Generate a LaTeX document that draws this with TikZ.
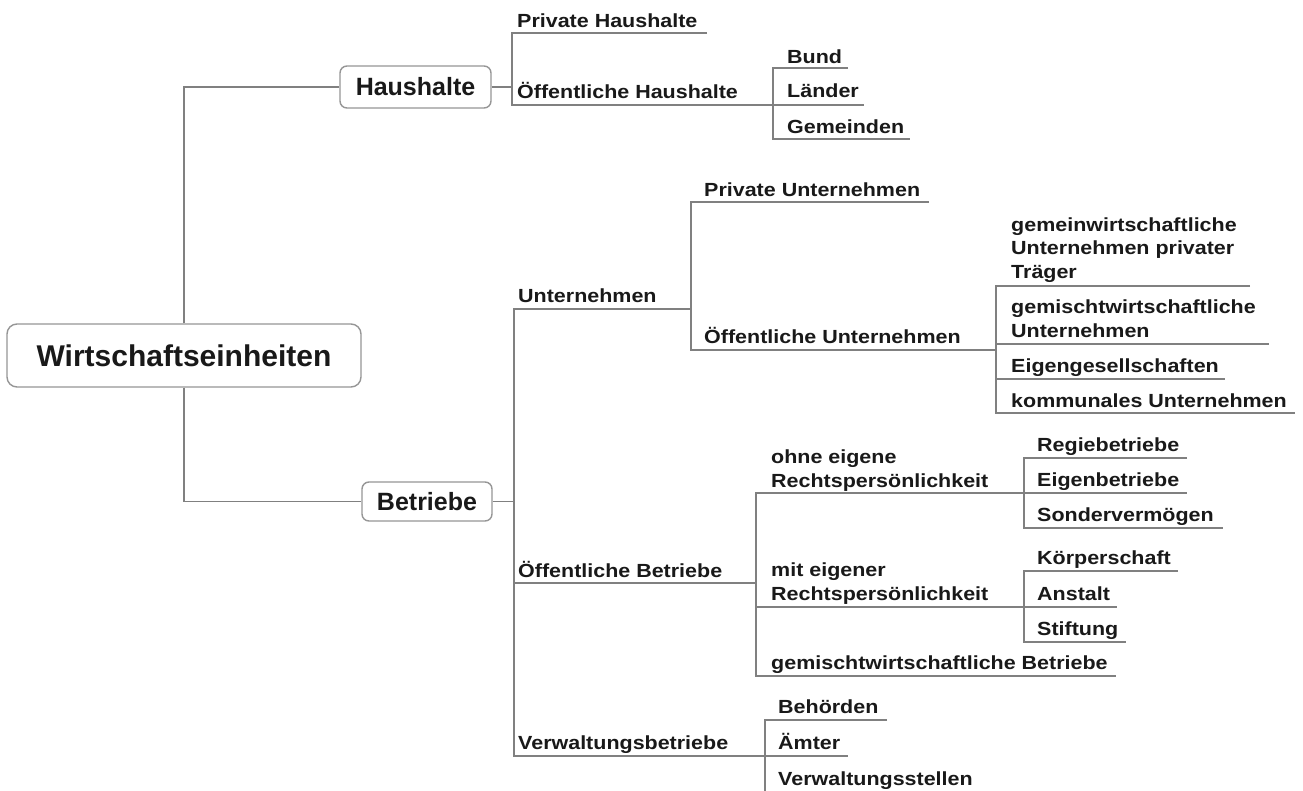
\documentclass[tikz,border=0pt]{standalone}
\usepackage{fontspec}
\setmainfont{Liberation Sans}
\newfontfamily\lblfam{Liberation Sans}[FakeStretch=1.13]
\definecolor{linegray}{RGB}{128,128,128}
\definecolor{boxgray}{RGB}{150,150,150}
\definecolor{txt}{RGB}{25,25,25}
\begin{document}
\begin{tikzpicture}[x=1pt,y=-1pt,
  conn/.style={draw=linegray,line width=1.6pt},
  lbl/.style={anchor=base west,inner sep=0pt,align=left,text=txt,font=\lblfam\bfseries\fontsize{19}{23.5}\selectfont},
  topic/.style={draw=boxgray,line width=1.4pt,rounded corners=7pt,fill=white,text=txt,inner sep=0pt,font=\bfseries\fontsize{25}{30}\selectfont}]
\useasboundingbox (0,0) rectangle (1303,790);
\clip (0,0) rectangle (1303,790);
\fill[white] (0,0) rectangle (1303,790);

% topics
\node[topic,minimum width=354pt,minimum height=63pt,rounded corners=10pt,font=\bfseries\fontsize{30}{36}\selectfont] (root) at (184,355.5) {Wirtschaftseinheiten};
\node[topic,minimum width=151pt,minimum height=42pt] (hh) at (415.5,87) {Haushalte};
\node[topic,minimum width=130pt,minimum height=39pt] (bt) at (427,501.5) {Betriebe};

% labels (multi-line labels are placed by the baseline of their last line)
\node[lbl] (ph) at (517,27) {Private Haushalte};
\node[lbl] (oh) at (517,98) {Öffentliche Haushalte};
\node[lbl] (bund) at (787,63) {Bund};
\node[lbl] (laender) at (787,97) {Länder};
\node[lbl] (gem) at (787,133) {Gemeinden};
\node[lbl] (unt) at (518,302) {Unternehmen};
\node[lbl] (pu) at (704,196) {Private Unternehmen};
\node[lbl] (ou) at (704,343) {Öffentliche Unternehmen};
\node[lbl] (gwu) at (1011,278) {gemeinwirtschaftliche\\Unternehmen privater\\Träger};
\node[lbl] (gmu) at (1011,337) {gemischtwirtschaftliche\\Unternehmen};
\node[lbl] (eig) at (1011,372) {Eigengesellschaften};
\node[lbl] (kom) at (1011,407) {kommunales Unternehmen};
\node[lbl] (ob) at (518,577) {Öffentliche Betriebe};
\node[lbl] (ohne) at (771,487) {ohne eigene\\Rechtspersönlichkeit};
\node[lbl] (mit) at (771,600) {mit eigener\\Rechtspersönlichkeit};
\node[lbl] (gmb) at (771,669) {gemischtwirtschaftliche Betriebe};
\node[lbl] (regie) at (1037,451) {Regiebetriebe};
\node[lbl] (eigb) at (1037,486) {Eigenbetriebe};
\node[lbl] (sonder) at (1037,521) {Sondervermögen};
\node[lbl] (koerp) at (1037,564) {Körperschaft};
\node[lbl] (anst) at (1037,600) {Anstalt};
\node[lbl] (stift) at (1037,635) {Stiftung};
\node[lbl] (vb) at (518,749) {Verwaltungsbetriebe};
\node[lbl] (beh) at (778,713) {Behörden};
\node[lbl] (aemt) at (778,749) {Ämter};
\node[lbl] (vst) at (778,785) {Verwaltungsstellen};

% root links
\draw[conn] (root.north) |- (hh.west);
\draw[conn] (root.south) |- (bt.west);

% Haushalte
\coordinate (hhJ) at (512,87);
\coordinate (ph-l) at (512,33); \coordinate (ph-r) at (707,33);
\coordinate (oh-l) at (512,105); \coordinate (oh-r) at (773,105);
\draw[conn] (hh.east) -- (hhJ);
\draw[conn] (ph-r) -- (ph-l) -- (oh-l) -- (oh-r);
\coordinate (bund-l) at (773,68); \coordinate (bund-r) at (848,68);
\coordinate (laender-r) at (864,105);
\coordinate (gem-l) at (773,139); \coordinate (gem-r) at (910,139);
\draw[conn] (bund-r) -- (bund-l) -- (gem-l) -- (gem-r);
\draw[conn] (oh-r) -- (laender-r);

% Betriebe
\coordinate (btJ) at (514,501.5);
\coordinate (unt-l) at (514,309); \coordinate (unt-r) at (691,309);
\coordinate (ob-l) at (514,583); \coordinate (ob-r) at (756,583);
\coordinate (vb-l) at (514,756); \coordinate (vb-r) at (765,756);
\draw[conn] (bt.east) -- (btJ);
\draw[conn] (unt-r) -- (unt-l) -- (vb-l) -- (vb-r);
\draw[conn] (ob-l) -- (ob-r);

% Unternehmen
\coordinate (pu-l) at (691,202); \coordinate (pu-r) at (929,202);
\coordinate (ou-l) at (691,350); \coordinate (ou-r) at (996,350);
\draw[conn] (pu-r) -- (pu-l) -- (ou-l) -- (ou-r);

% Oeffentliche Unternehmen
\coordinate (gwu-l) at (996,286); \coordinate (gwu-r) at (1250,286);
\coordinate (gmu-l) at (996,344); \coordinate (gmu-r) at (1269,344);
\coordinate (eig-l) at (996,379); \coordinate (eig-r) at (1225,379);
\coordinate (kom-l) at (996,413); \coordinate (kom-r) at (1295,413);
\draw[conn] (gwu-r) -- (gwu-l) -- (kom-l) -- (kom-r);
\draw[conn] (gmu-l) -- (gmu-r);
\draw[conn] (eig-l) -- (eig-r);

% Oeffentliche Betriebe
\coordinate (ohne-l) at (756,493); \coordinate (ohne-r) at (1024,493);
\coordinate (mit-l) at (756,607); \coordinate (mit-r) at (1024,607);
\coordinate (gmb-l) at (756,676); \coordinate (gmb-r) at (1116,676);
\draw[conn] (ohne-r) -- (ohne-l) -- (gmb-l) -- (gmb-r);
\draw[conn] (mit-l) -- (mit-r);

% ohne eigene
\coordinate (regie-l) at (1024,458); \coordinate (regie-r) at (1187,458);
\coordinate (eigb-r) at (1187,493);
\coordinate (sonder-l) at (1024,528); \coordinate (sonder-r) at (1223,528);
\draw[conn] (regie-r) -- (regie-l) -- (sonder-l) -- (sonder-r);
\draw[conn] (ohne-r) -- (eigb-r);

% mit eigener
\coordinate (koerp-l) at (1024,571); \coordinate (koerp-r) at (1178,571);
\coordinate (anst-r) at (1117,607);
\coordinate (stift-l) at (1024,642); \coordinate (stift-r) at (1126,642);
\draw[conn] (koerp-r) -- (koerp-l) -- (stift-l) -- (stift-r);
\draw[conn] (mit-r) -- (anst-r);

% Verwaltungsbetriebe
\coordinate (beh-l) at (765,720); \coordinate (beh-r) at (887,720);
\coordinate (aemt-r) at (848,756);
\coordinate (vst-l) at (765,793); \coordinate (vst-r) at (985,793);
\draw[conn] (beh-r) -- (beh-l) -- (vst-l) -- (vst-r);
\draw[conn] (vb-r) -- (aemt-r);
\end{tikzpicture}
\end{document}
